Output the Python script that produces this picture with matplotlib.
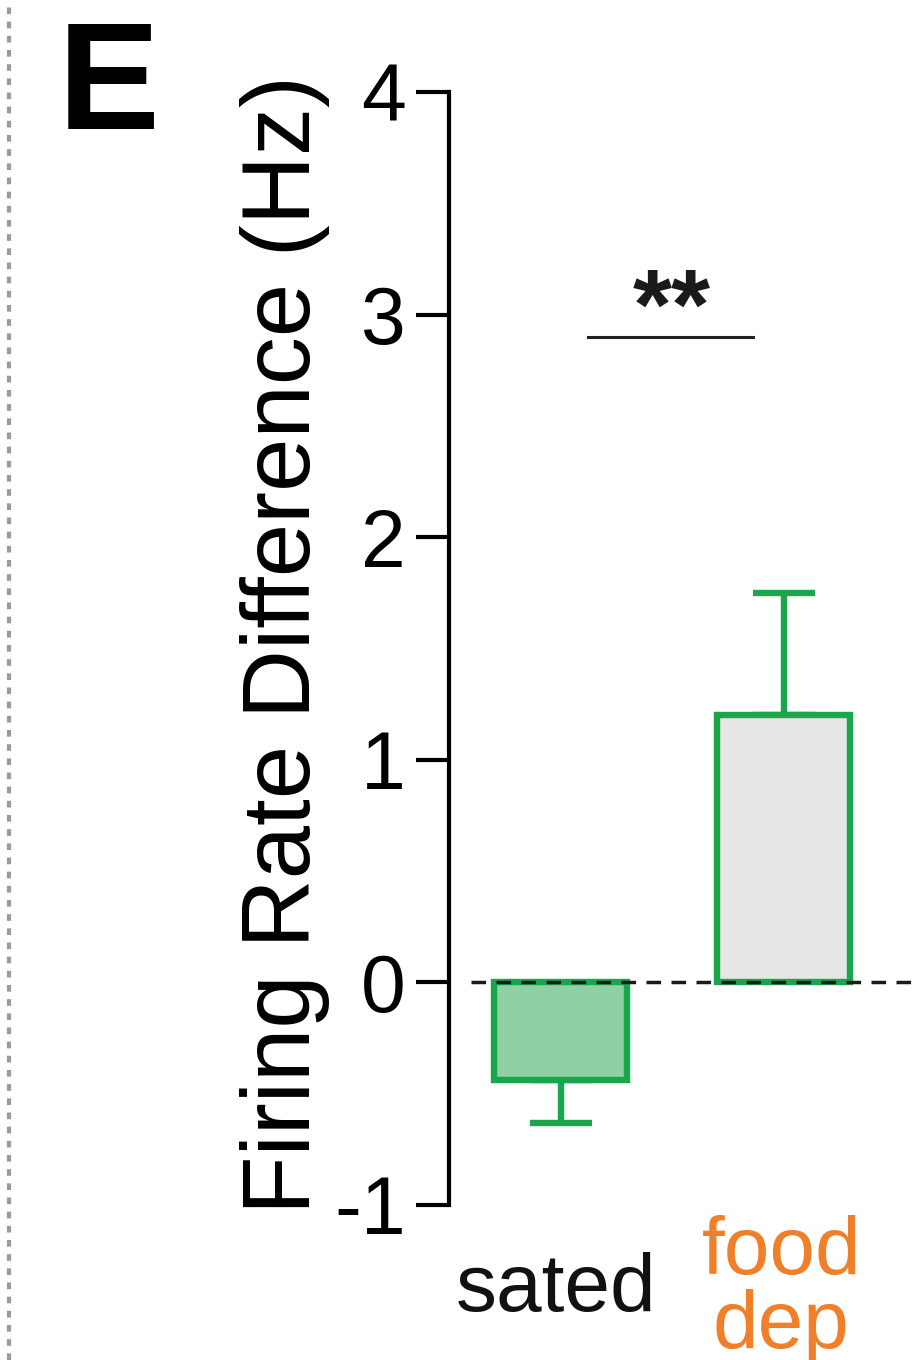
import matplotlib
matplotlib.use("Agg")
import matplotlib.pyplot as plt
from matplotlib.lines import Line2D
from matplotlib.transforms import blended_transform_factory

plt.rcParams['font.family'] = ['Liberation Sans', 'DejaVu Sans']

categories = ["sated", "food\ndep"]
label_colors = ["#111111", "#f07f2a"]
means = [-0.44, 1.20]
errors = [0.19, 0.55]
fills = ["#8fd0a5", "#e6e6e6"]
edge = "#1aa64a"
yticks = [-1, 0, 1, 2, 3, 4]
sig_text = "**"
sig_y = 2.9
ylabel = "Firing Rate Difference (Hz)"

W, H = 921, 1360
fig = plt.figure(figsize=(W / 100, H / 100), dpi=100)

ax_left = 449 / W
ax_bottom = 1 - 1205 / H
ax_top = 1 - 92 / H
ax = fig.add_axes([ax_left, ax_bottom, 1 - ax_left, ax_top - ax_bottom])
x = [0, 1]
xmin = -0.5
xmax = xmin + (W - 449) / 223.0
ax.set_xlim(xmin, xmax)
ax.set_ylim(-1, 4)

for i in range(2):
    ax.bar(x[i], means[i], width=0.6, color=fills[i], edgecolor=edge,
           linewidth=4.6, zorder=2)
    sign = 1 if means[i] >= 0 else -1
    ax.errorbar(x[i], means[i], yerr=[[0], [errors[i]]] if sign > 0 else [[errors[i]], [0]],
                fmt='none', ecolor=edge, elinewidth=4.6, capsize=22, capthick=4.6, zorder=1)

ax.plot([-0.40, xmax + 1], [0, 0], linestyle=(0, (4.2, 3.0)), color="#1a1a1a",
        linewidth=2.5, zorder=3, clip_on=False)

# significance
ax.plot([0.122, 0.861], [sig_y, sig_y], color="#222222", linewidth=2.2)
ax.text(0.5, sig_y - 0.01, sig_text, ha='center', va='baseline', fontsize=72,
        fontweight='bold', color="#1a1a1a")

for s in ['top', 'right', 'bottom']:
    ax.spines[s].set_visible(False)
ax.spines['left'].set_linewidth(3.0)
ax.set_yticks(yticks)
ax.set_yticklabels([str(v) for v in yticks])
ax.tick_params(axis='y', length=24, width=3.0, pad=7, labelsize=58)
ax.set_xticks([])
ax.patch.set_alpha(0)

tr = blended_transform_factory(ax.transData, fig.transFigure)
label_x = [-0.02, 0.99]
for i in range(2):
    ax.text(label_x[i], 1 - 1290 / H, categories[i], transform=tr, ha='center', va='center',
            fontsize=59, color=label_colors[i], linespacing=0.95, clip_on=False)

fig.text(285 / W, 1 - 645 / H, ylabel, rotation=90, ha='center', va='center', fontsize=69)
fig.text(58 / W, 1 - 129 / H, "E", fontsize=110, fontweight='bold', ha='left', va='baseline')

fig.add_artist(Line2D([9 / W, 9 / W], [0, 1], transform=fig.transFigure, color="#9a9a9a",
                      linewidth=3.0, linestyle=(0, (1.6, 1.8))))

fig.savefig("out.png", dpi=100)
